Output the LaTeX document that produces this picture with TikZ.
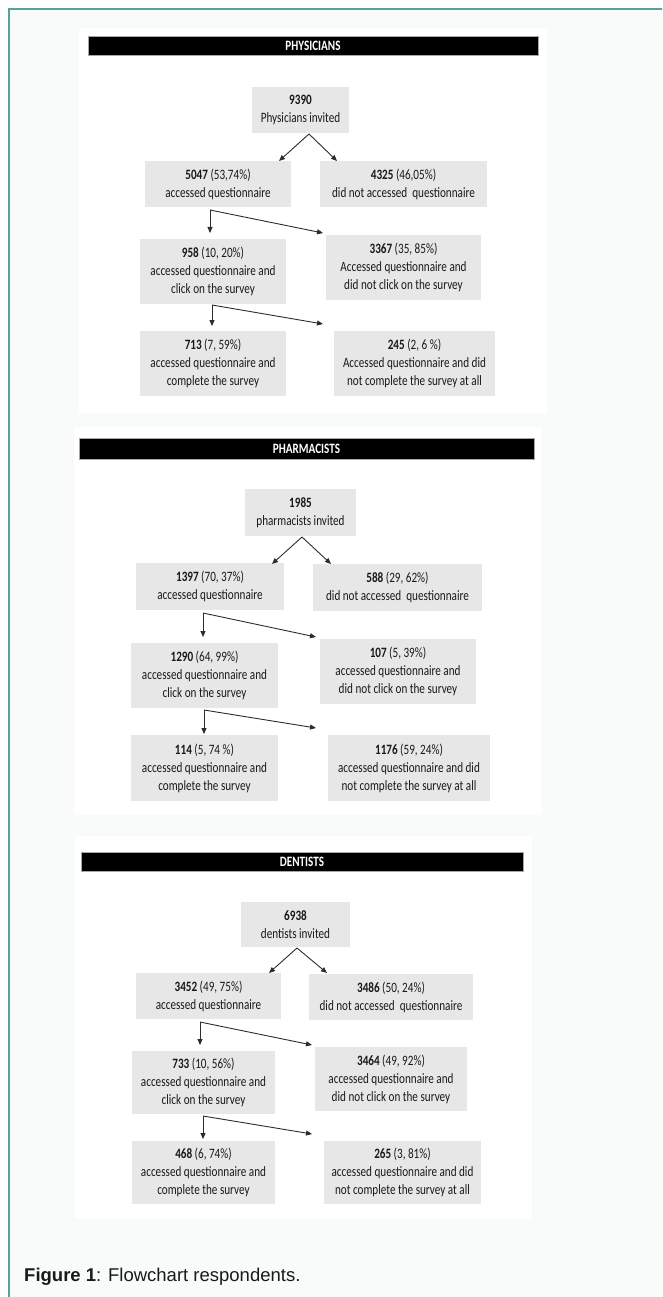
\documentclass[tikz,border=0pt]{standalone}
\usepackage{fontspec}
\setmainfont{Carlito}[FakeStretch=0.78]
\newfontfamily\capfont{Liberation Sans}
\usetikzlibrary{arrows.meta}
\definecolor{frameteal}{RGB}{92,160,156}
\definecolor{framebg}{RGB}{249,251,251}
\definecolor{boxgray}{RGB}{231,231,231}
\definecolor{arrgray}{RGB}{45,45,45}
\definecolor{txt}{RGB}{25,25,25}
\tikzset{
 box/.style={fill=boxgray, inner sep=0pt, align=center, text=txt, font=\fontsize{14.3}{18}\selectfont},
 bar/.style={fill=black, draw=gray!70, line width=0.6pt, inner sep=0pt, text=white, font=\bfseries\fontsize{14.3}{15}\selectfont},
 arr/.style={draw=arrgray, line width=0.9pt, -{Triangle[length=6pt,width=5pt]}},
 panel/.style={fill=white, draw=none},
}
\newcommand\bx[6]{\node[box, minimum width={(#4-#2)*1pt}, minimum height={(#5-#3)*1pt}] (#1) at ({(#2+#4)/2},{(#3+#5)/2}) {#6};}
\newcommand\br[6]{\node[bar, minimum width={(#4-#2)*1pt}, minimum height={(#5-#3)*1pt}] (#1) at ({(#2+#4)/2},{(#3+#5)/2}) {#6};}
\begin{document}
\begin{tikzpicture}[x=1pt,y=-1pt]
\useasboundingbox (0,0) rectangle (662,1297);
\clip (0,0) rectangle (662,1297);
\fill[white] (0,0) rectangle (662,1297);
\draw[draw=frameteal, fill=framebg, line width=1.6pt] (9,9) rectangle (700,1340);
% panels
\fill[panel] (79,28) rectangle (547,414);
\fill[panel] (74,427) rectangle (542,815);
\fill[panel] (75,836) rectangle (532,1218);
% ---------- PHYSICIANS ----------
\br{pbar}{88}{36}{538}{55}{PHYSICIANS}
\bx{p0}{252}{87}{349}{133}{\textbf{9390}\\Physicians invited}
\bx{p1}{145}{161}{291}{207}{\textbf{5047} (53,74\%)\\accessed questionnaire}
\bx{p2}{320}{161}{487}{207}{\textbf{4325} (46,05\%)\\did not accessed\ \ questionnaire}
\bx{p3}{140}{239}{286}{304}{\textbf{958} (10, 20\%)\\accessed questionnaire and\\click on the survey}
\bx{p4}{326}{235}{481}{300}{\textbf{3367} (35, 85\%)\\Accessed questionnaire and\\did not click on the survey}
\bx{p5}{140}{331}{286}{396}{\textbf{713} (7, 59\%)\\accessed questionnaire and\\complete the survey}
\bx{p6}{334}{331}{495}{396}{\textbf{245} (2, 6 \%)\\Accessed questionnaire and did\\not complete the survey at all}
\coordinate (pa) at (309,134);
\coordinate (pl) at (279,161);
\coordinate (pr) at (337,161);
\draw[arr] (pa) -- (pl);
\draw[arr] (pa) -- (pr);
\coordinate (pb) at (210,210);
\coordinate (pbd) at (210,233);
\coordinate (pbr) at (323,233);
\draw[arr] (pb) -- (pbd);
\draw[arr] (pb) -- (pbr);
\coordinate (pc) at (212,305);
\coordinate (pcd) at (212,326);
\coordinate (pcr) at (323,324);
\draw[arr] (pc) -- (pcd);
\draw[arr] (pc) -- (pcr);
% ---------- PHARMACISTS ----------
\br{hbar}{79}{438}{534}{459}{PHARMACISTS}
\bx{h0}{245}{489}{356}{536}{\textbf{1985}\\pharmacists invited}
\bx{h1}{136}{563}{284}{610}{\textbf{1397} (70, 37\%)\\accessed questionnaire}
\bx{h2}{313}{564}{482}{611}{\textbf{588} (29, 62\%)\\did not accessed\ \ questionnaire}
\bx{h3}{131}{643}{278}{708}{\textbf{1290} (64, 99\%)\\accessed questionnaire and\\click on the survey}
\bx{h4}{320}{639}{476}{704}{\textbf{107} (5, 39\%)\\accessed questionnaire and\\did not click on the survey}
\bx{h5}{131}{735}{278}{801}{\textbf{114} (5, 74 \%)\\accessed questionnaire and\\complete the survey}
\bx{h6}{328}{735}{490}{801}{\textbf{1176} (59, 24\%)\\accessed questionnaire and did\\not complete the survey at all}
\coordinate (ha) at (302,537);
\coordinate (hl) at (272,564);
\coordinate (hr) at (331,564);
\draw[arr] (ha) -- (hl);
\draw[arr] (ha) -- (hr);
\coordinate (hb) at (203,613);
\coordinate (hbd) at (203,637);
\coordinate (hbr) at (316,637);
\draw[arr] (hb) -- (hbd);
\draw[arr] (hb) -- (hbr);
\coordinate (hc) at (204,710);
\coordinate (hcd) at (204,734);
\coordinate (hcr) at (316,728);
\draw[arr] (hc) -- (hcd);
\draw[arr] (hc) -- (hcr);
% ---------- DENTISTS ----------
\br{dbar}{81}{852}{523}{871}{DENTISTS}
\bx{d0}{241}{902}{350}{947}{\textbf{6938}\\dentists invited}
\bx{d1}{136}{973}{281}{1019}{\textbf{3452} (49, 75\%)\\accessed questionnaire}
\bx{d2}{309}{974}{473}{1020}{\textbf{3486} (50, 24\%)\\did not accessed\ \ questionnaire}
\bx{d3}{132}{1051}{275}{1114}{\textbf{733} (10, 56\%)\\accessed questionnaire and\\click on the survey}
\bx{d4}{315}{1047}{467}{1111}{\textbf{3464} (49, 92\%)\\accessed questionnaire and\\did not click on the survey}
\bx{d5}{132}{1141}{275}{1204}{\textbf{468} (6, 74\%)\\accessed questionnaire and\\complete the survey}
\bx{d6}{324}{1141}{481}{1204}{\textbf{265} (3, 81\%)\\accessed questionnaire and did\\not complete the survey at all}
\coordinate (da) at (297,948);
\coordinate (dl) at (269,973);
\coordinate (dr) at (327,973);
\draw[arr] (da) -- (dl);
\draw[arr] (da) -- (dr);
\coordinate (db) at (200,1022);
\coordinate (dbd) at (200,1045);
\coordinate (dbr) at (312,1045);
\draw[arr] (db) -- (dbd);
\draw[arr] (db) -- (dbr);
\coordinate (dc) at (203,1116);
\coordinate (dcd) at (203,1139);
\coordinate (dcr) at (312,1134);
\draw[arr] (dc) -- (dcd);
\draw[arr] (dc) -- (dcr);
% caption
\node[anchor=west, inner sep=0pt, text=txt, font=\capfont\fontsize{18.5}{22}\selectfont] (cap) at (24,1277) {\textbf{Figure 1}: Flowchart respondents.};
\end{tikzpicture}
\end{document}
